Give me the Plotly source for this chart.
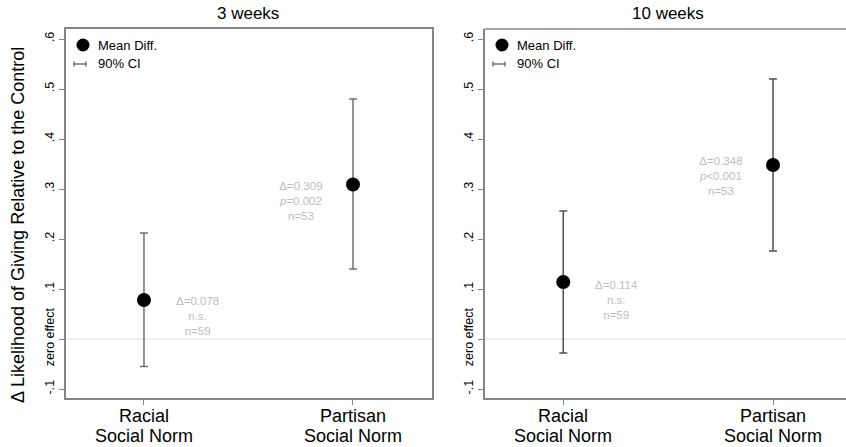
import plotly.graph_objects as go

# ---- data ----
cat_line1 = ["Racial", "Partisan"]
cat_line2 = ["Social Norm", "Social Norm"]
cat_pos = [1, 2]
panel_titles = ["3 weeks", "10 weeks"]

mean_3w = [0.078, 0.309]
lo_3w = [-0.055, 0.140]
hi_3w = [0.212, 0.480]

mean_10w = [0.114, 0.348]
lo_10w = [-0.028, 0.176]
hi_10w = [0.256, 0.520]

labels_3w = ["Δ=0.078<br>n.s.<br>n=59", "Δ=0.309<br><i>p</i>=0.002<br>n=53"]
labels_10w = ["Δ=0.114<br>n.s.<br>n=59", "Δ=0.348<br><i>p</i><0.001<br>n=53"]
label_x_3w = [1.255, 1.75]
label_y_3w = [0.046, 0.276]
label_x_10w = [1.255, 1.75]
label_y_10w = [0.078, 0.326]

ytick_vals = [-0.1, 0, 0.1, 0.2, 0.3, 0.4, 0.5, 0.6]
ytick_text = ["-.1", "zero effect", ".1", ".2", ".3", ".4", ".5", ".6"]

W, H = 846, 447
T, B = 29, 49
FONT = "Arial, Liberation Sans, sans-serif"
FRAME = "#858585"


def px(x):
    return x / W


def py(y):
    return (H - B - y) / (H - T - B)


fig = go.Figure()

panels = [
    ("x", "y", mean_3w, lo_3w, hi_3w, labels_3w, label_x_3w, label_y_3w, "#707070"),
    ("x2", "y2", mean_10w, lo_10w, hi_10w, labels_10w, label_x_10w, label_y_10w, "#505050"),
]

for xa, ya, m, lo, hi, labs, lx, ly, ecol in panels:
    fig.add_trace(go.Scatter(
        x=cat_pos, y=m, xaxis=xa, yaxis=ya, mode="markers",
        marker=dict(color="black", size=14),
        error_y=dict(type="data", symmetric=False,
                     array=[h - v for h, v in zip(hi, m)],
                     arrayminus=[v - l for l, v in zip(lo, m)],
                     color=ecol, thickness=1.5, width=4),
        showlegend=False, hoverinfo="skip",
    ))
    # zero line
    fig.add_shape(type="line", xref=xa + " domain", yref=ya, x0=0, x1=1, y0=0, y1=0,
                  line=dict(color="#dddddd", width=1), layer="below")
    for t, xx, yy in zip(labs, lx, ly):
        fig.add_annotation(x=xx, y=yy, xref=xa, yref=ya, text=t, showarrow=False,
                           font=dict(family=FONT, size=11.5, color="#bdbdbd"),
                           align="center", xanchor="center", yanchor="middle")
    # category labels (two lines, tight spacing)
    for xx, l1, l2 in zip(cat_pos, cat_line1, cat_line2):
        fig.add_annotation(x=xx, y=py(416), xref=xa, yref="paper", text=l1,
                           showarrow=False, font=dict(family=FONT, size=18),
                           xanchor="center", yanchor="middle")
        fig.add_annotation(x=xx, y=py(436), xref=xa, yref="paper", text=l2,
                           showarrow=False, font=dict(family=FONT, size=18),
                           xanchor="center", yanchor="middle")

axis_common = dict(showline=True, linecolor=FRAME, linewidth=1.5, showgrid=False,
                   zeroline=False, ticks="outside", tickcolor=FRAME, ticklen=5,
                   tickwidth=1, automargin=False)

fig.update_layout(
    width=W, height=H,
    margin=dict(l=0, r=0, t=T, b=B, autoexpand=False),
    paper_bgcolor="white", plot_bgcolor="white",
    font=dict(family=FONT, color="black"),
    xaxis=dict(domain=[px(66), px(432)], range=[0.627, 2.378], mirror=True,
               tickvals=cat_pos, ticktext=["", ""], **axis_common),
    xaxis2=dict(domain=[px(485), 1.0], range=[0.627, 2.348], mirror=False,
                tickvals=cat_pos, ticktext=["", ""], **axis_common),
    yaxis=dict(domain=[0, 1], range=[-0.118, 0.62], mirror=True, anchor="x",
               tickvals=ytick_vals, ticktext=ytick_text, tickangle=-90,
               tickfont=dict(size=12.5), **axis_common),
    yaxis2=dict(domain=[0, 1], range=[-0.118, 0.62], mirror=False, anchor="x2",
                tickvals=ytick_vals, ticktext=ytick_text, tickangle=-90,
                tickfont=dict(size=12.5), **axis_common),
)

# top frame line of right panel (no right edge visible)
fig.add_shape(type="line", xref="x2 domain", yref="y2 domain", x0=0, x1=1, y0=1, y1=1,
              line=dict(color=FRAME, width=1.5))

# panel titles
for t, cx in zip(panel_titles, [248, 668]):
    fig.add_annotation(x=px(cx), y=py(14), xref="paper", yref="paper", text=t,
                       showarrow=False, font=dict(family=FONT, size=17),
                       xanchor="center", yanchor="middle")

# y axis title
fig.add_annotation(x=px(18), y=py(225), xref="paper", yref="paper",
                   text="Δ Likelihood of Giving Relative to the Control",
                   textangle=-90, showarrow=False, font=dict(family=FONT, size=18),
                   xanchor="center", yanchor="middle")

# legends (one per panel)
for ox in [0, 419]:
    cx, cy, r = 83 + ox, 45, 6.5
    fig.add_shape(type="circle", xref="paper", yref="paper",
                  x0=px(cx - r), x1=px(cx + r), y0=py(cy + r), y1=py(cy - r),
                  fillcolor="black", line=dict(color="black", width=0))
    fig.add_annotation(x=px(96 + ox), y=py(45), xref="paper", yref="paper",
                       text="Mean Diff.", showarrow=False,
                       font=dict(family=FONT, size=13), xanchor="left", yanchor="middle")
    ly = 64
    fig.add_shape(type="line", xref="paper", yref="paper",
                  x0=px(74 + ox), x1=px(86 + ox), y0=py(ly), y1=py(ly),
                  line=dict(color="#555555", width=1.2))
    for ex in [74, 86]:
        fig.add_shape(type="line", xref="paper", yref="paper",
                      x0=px(ex + ox), x1=px(ex + ox), y0=py(ly - 2.5), y1=py(ly + 2.5),
                      line=dict(color="#555555", width=1.2))
    fig.add_annotation(x=px(96 + ox), y=py(ly), xref="paper", yref="paper",
                       text="90% CI", showarrow=False,
                       font=dict(family=FONT, size=13), xanchor="left", yanchor="middle")

fig.write_html("out.html", config={"displayModeBar": False},
               post_script="document.body.style.margin='0';document.body.style.padding='0';")
